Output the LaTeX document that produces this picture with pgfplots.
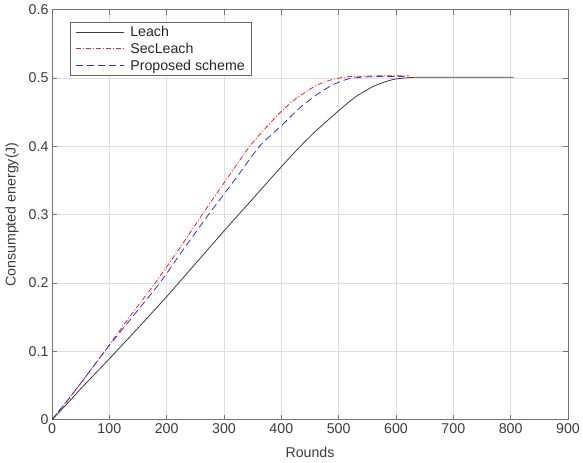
\documentclass[border=0pt]{standalone}
\usepackage{pgfplots}
\pgfplotsset{compat=1.18}
\usepackage{fontspec}
\setmainfont{Liberation Sans}
\definecolor{axgray}{RGB}{38,38,38}
\definecolor{txtgray}{RGB}{60,60,60}
\definecolor{leachc}{RGB}{60,60,60}
\definecolor{secc}{RGB}{245,30,30}
\definecolor{propc}{RGB}{45,45,225}
\begin{document}
\begin{tikzpicture}
\begin{axis}[
  scale only axis,
  width=516pt, height=410pt,
  xmin=0, xmax=900, ymin=0, ymax=0.6,
  xtick={0,100,...,900},
  ytick={0,0.1,...,0.6},
  yticklabel style={/pgf/number format/fixed,/pgf/number format/precision=1},
  /pgf/number format/assume math mode=true,
  ticklabel style={font=\fontsize{14.2}{16}\selectfont, text=txtgray},
  label style={font=\fontsize{14.2}{16}\selectfont, text=txtgray},
  xlabel={Rounds},
  ylabel={Consumpted energy(J)},
  xlabel style={at={(axis description cs:0.5,-0.0805)}, anchor=center},
  ylabel style={at={(axis description cs:-0.0775,0.5)}, anchor=center},
  grid=major,
  major grid style={draw=gray!25, line width=0.5pt},
  axis line style={draw=gray!90!black, line width=0.6pt},
  tick style={draw=gray!90!black, line width=0.5pt},
  tick align=inside,
  major tick length=5pt,
  legend style={at={(0.035,0.97)}, anchor=north west, draw=axgray!70, line width=0.7pt,
    font=\fontsize{14.2}{18}\selectfont, text=axgray, row sep=1pt, inner xsep=5pt, inner ysep=2pt,
    /tikz/every odd column/.append style={column sep=4pt}},
  legend cell align=left,
  legend image code/.code={\draw[#1, line width=0.9pt] (0pt,0pt) -- (48pt,0pt);},
]
\addplot[color=leachc, line width=0.8pt, smooth, tension=0.4] coordinates {
(0,0) (25,0.022) (50,0.045) (75,0.067) (100,0.089) (150,0.134) (200,0.180) (250,0.228)
(300,0.276) (350,0.323) (400,0.370) (432,0.399) (461,0.423) (500,0.452)
(529,0.472) (559,0.487) (580,0.494) (600,0.4985) (635,0.501) (700,0.501) (805,0.501)};
\addlegendentry{Leach}
\addplot[color=secc, line width=0.8pt, dash pattern=on 5pt off 2pt on 1pt off 2pt, smooth, tension=0.4] coordinates {
(0,0) (25,0.026) (50,0.053) (92,0.100) (135,0.150) (180,0.200) (222,0.250) (262,0.300)
(303,0.350) (345,0.400) (374,0.428) (400,0.451) (426,0.470) (461,0.489)
(490,0.498) (520,0.502) (570,0.503) (623,0.503)};
\addlegendentry{SecLeach}
\addplot[color=propc, line width=0.8pt, dash pattern=on 7pt off 4pt, smooth, tension=0.4] coordinates {
(0,0) (25,0.026) (50,0.053) (92,0.100) (140,0.150) (188,0.200) (230,0.250) (273,0.300)
(318,0.350) (362,0.400) (400,0.430) (432,0.456) (461,0.475) (490,0.490) (519,0.499) (560,0.502) (614,0.502)};
\addlegendentry{Proposed scheme}
\end{axis}
\pgfresetboundingbox
\path ([xshift=-52pt,yshift=-43pt]current axis.south west) rectangle ([xshift=15pt,yshift=9.6pt]current axis.north east);
\end{tikzpicture}
\end{document}
